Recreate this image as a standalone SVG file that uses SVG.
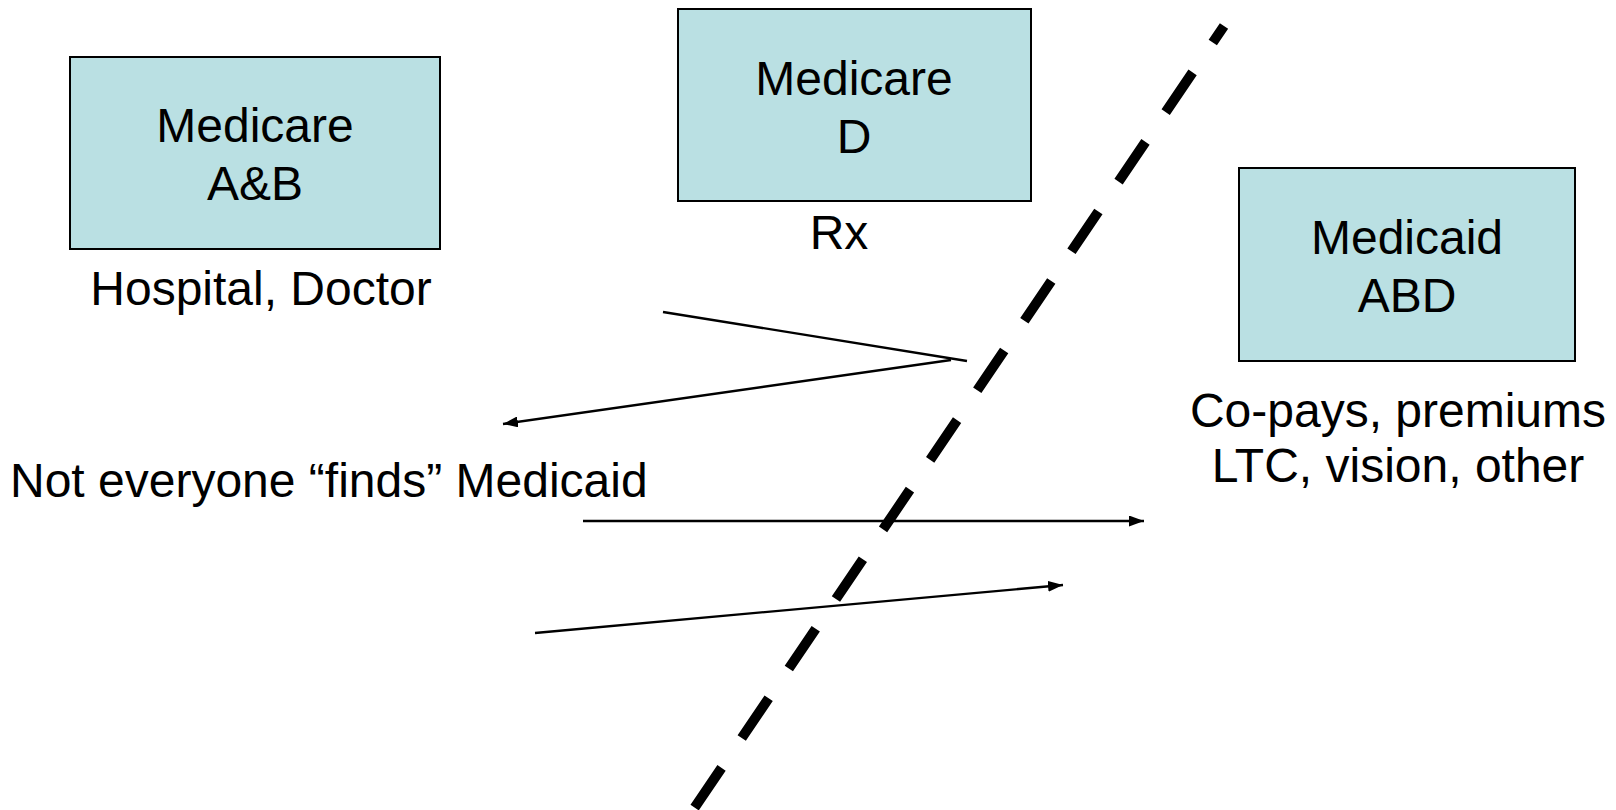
<svg xmlns="http://www.w3.org/2000/svg" width="1616" height="810" viewBox="0 0 1616 810">
<style>
.box{fill:#BAE0E3;stroke:#000;stroke-width:2}
.t{font-family:"Liberation Sans",Arial,sans-serif;font-size:48px;fill:#000}
.c{text-anchor:middle}
.ln{stroke:#000;stroke-width:2.3;fill:none}
.dash{stroke:#000;stroke-width:10;fill:none;stroke-dasharray:48 36;stroke-dashoffset:28}
</style>
<defs>
<marker id="ah" viewBox="0 0 15 11" refX="15" refY="5.5" markerWidth="15" markerHeight="11" markerUnits="userSpaceOnUse" orient="auto">
<path d="M0,0 L15,5.5 L0,11 z" fill="#000"/>
</marker>
</defs>
<rect width="1616" height="810" fill="#fff"/>
<g id="medicare-ab">
<rect class="box" x="70" y="57" width="370" height="192"/>
<text class="t c" x="255" y="142">Medicare</text>
<text class="t c" x="255" y="200">A&amp;B</text>
</g>
<text class="t c" x="261" y="305">Hospital, Doctor</text>
<g id="medicare-d">
<rect class="box" x="678" y="9" width="353" height="192"/>
<text class="t c" x="854" y="95">Medicare</text>
<text class="t c" x="854" y="153">D</text>
</g>
<text class="t c" x="839" y="249">Rx</text>
<g id="medicaid-abd">
<rect class="box" x="1239" y="168" width="336" height="193"/>
<text class="t c" x="1407" y="254">Medicaid</text>
<text class="t c" x="1407" y="312">ABD</text>
</g>
<text class="t c" x="1398" y="427">Co-pays, premiums</text>
<text class="t c" x="1398" y="482">LTC, vision, other</text>
<text class="t" x="10" y="497">Not everyone “finds” Medicaid</text>
<line class="dash" x1="1224" y1="26" x2="693" y2="810"/>
<g id="connectors">
<line class="ln" x1="663" y1="312" x2="967" y2="361"/>
<line class="ln" x1="951" y1="360" x2="503" y2="424" marker-end="url(#ah)"/>
<line class="ln" x1="583" y1="521" x2="1144" y2="521" marker-end="url(#ah)"/>
<line class="ln" x1="535" y1="633" x2="1063" y2="585" marker-end="url(#ah)"/>
</g>
</svg>
